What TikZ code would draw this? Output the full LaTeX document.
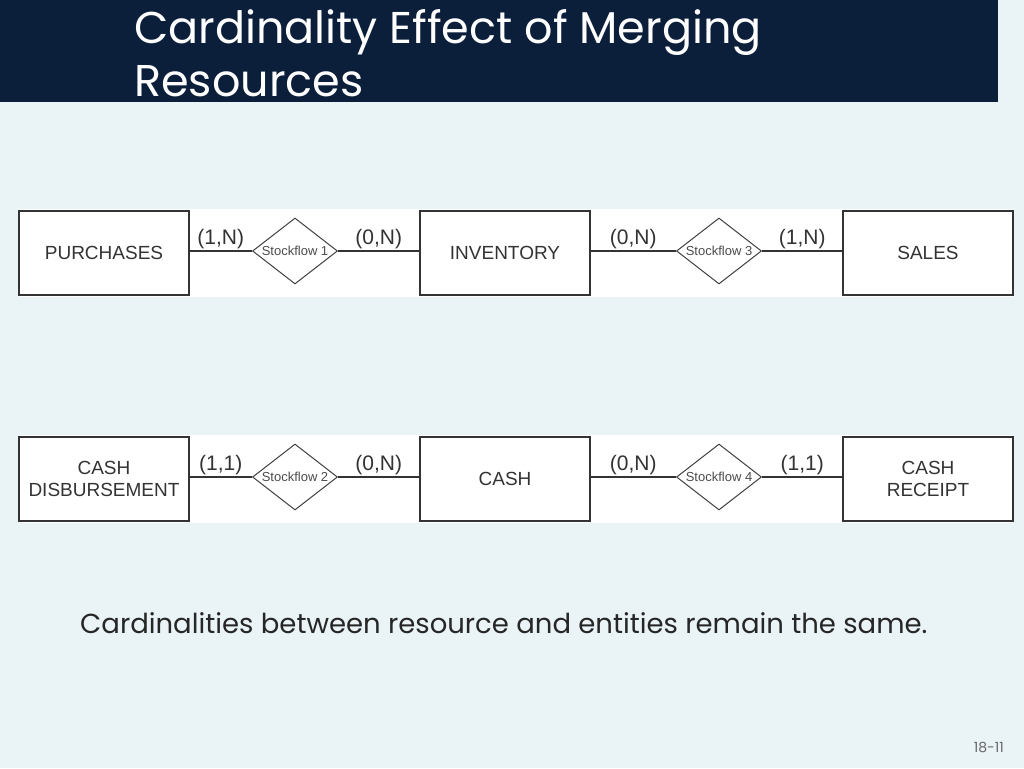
\documentclass[tikz,border=0pt]{standalone}
\usepackage{fontspec}
\setmainfont{Poppins}
\newfontfamily\erfont{Liberation Sans}
\usepackage{tikz}
\usetikzlibrary{shapes.geometric,positioning}
\definecolor{navy}{HTML}{0B1F3B}
\definecolor{slidebg}{HTML}{EAF4F7}
\newcommand{\flowtext}[1]{\makebox[0pt]{#1}}

\begin{document}
\begin{tikzpicture}[
  x=1pt, y=-1pt,
  ent/.style={
    rectangle, draw=black!80, fill=white, line width=1.2pt,
    font=\erfont\fontsize{19}{22}\selectfont, text=black!80, align=center,
    minimum width=170pt, minimum height=84pt, inner sep=0pt
  },
  rel/.style={
    diamond, draw=black!75, fill=white, line width=1pt,
    font=\erfont\fontsize{13}{15}\selectfont, text=black!70,
    minimum width=85pt, minimum height=66pt, inner sep=0pt
  },
  card/.style={font=\erfont\fontsize{21}{24}\selectfont, text=black!80, inner sep=1.5pt},
  conn/.style={draw=black!80, line width=1.2pt}
]

% Slide background
\useasboundingbox (0,0) rectangle (1024,768);
\fill[slidebg] (0,0) rectangle (1024,768);
\fill[navy] (0,0) rectangle (998,102);
\node[anchor=base west, text=white, font=\fontsize{44.5}{52}\selectfont, inner sep=0pt]
     (title1) at (134,44) {Cardinality Effect of Merging};
\node[anchor=base west, text=white, font=\fontsize{44.5}{52}\selectfont, inner sep=0pt]
     (title2) at (134,96) {Resources};

% Diagram backgrounds
\fill[white] (19,209) rectangle (1013,297);
\fill[white] (19,435) rectangle (1013,523);

% -- Row 1 --
\node[ent] (purch) at (104,253) {PURCHASES};
\node[ent] (inv)   at (505,253) {INVENTORY};
\node[ent] (sales) at (928,253) {SALES};
\node[rel] (sf1)   at (295,251) {\flowtext{Stockflow 1}};
\node[rel] (sf3)   at (719,251) {\flowtext{Stockflow 3}};

% -- Row 2 --
\node[ent] (disb)  at (104,479) {CASH\\DISBURSEMENT};
\node[ent] (cash)  at (505,479) {CASH};
\node[ent] (rcpt)  at (928,479) {CASH\\RECEIPT};
\node[rel] (sf2)   at (295,477) {\flowtext{Stockflow 2}};
\node[rel] (sf4)   at (719,477) {\flowtext{Stockflow 4}};

% -- Connections row 1 --
\draw[conn] (purch.east |- sf1) -- node[card, above]{(1,N)} (sf1.west);
\draw[conn] (sf1.east) -- node[card, above]{(0,N)} (inv.west |- sf1);
\draw[conn] (inv.east |- sf3) -- node[card, above]{(0,N)} (sf3.west);
\draw[conn] (sf3.east) -- node[card, above]{(1,N)} (sales.west |- sf3);

% -- Connections row 2 --
\draw[conn] (disb.east |- sf2) -- node[card, above]{(1,1)} (sf2.west);
\draw[conn] (sf2.east) -- node[card, above]{(0,N)} (cash.west |- sf2);
\draw[conn] (cash.east |- sf4) -- node[card, above]{(0,N)} (sf4.west);
\draw[conn] (sf4.east) -- node[card, above]{(1,1)} (rcpt.west |- sf4);

% Caption and page number
\node[anchor=base west, font=\fontsize{27.5}{32}\selectfont, text=black!85, inner sep=0pt]
     (caption) at (80,633) {Cardinalities between resource and entities remain the same.};
\node[anchor=base east, font=\fontsize{14}{16}\selectfont, text=black!60, inner sep=0pt]
     (pageno) at (1004,752) {18-11};

\end{tikzpicture}
\end{document}
